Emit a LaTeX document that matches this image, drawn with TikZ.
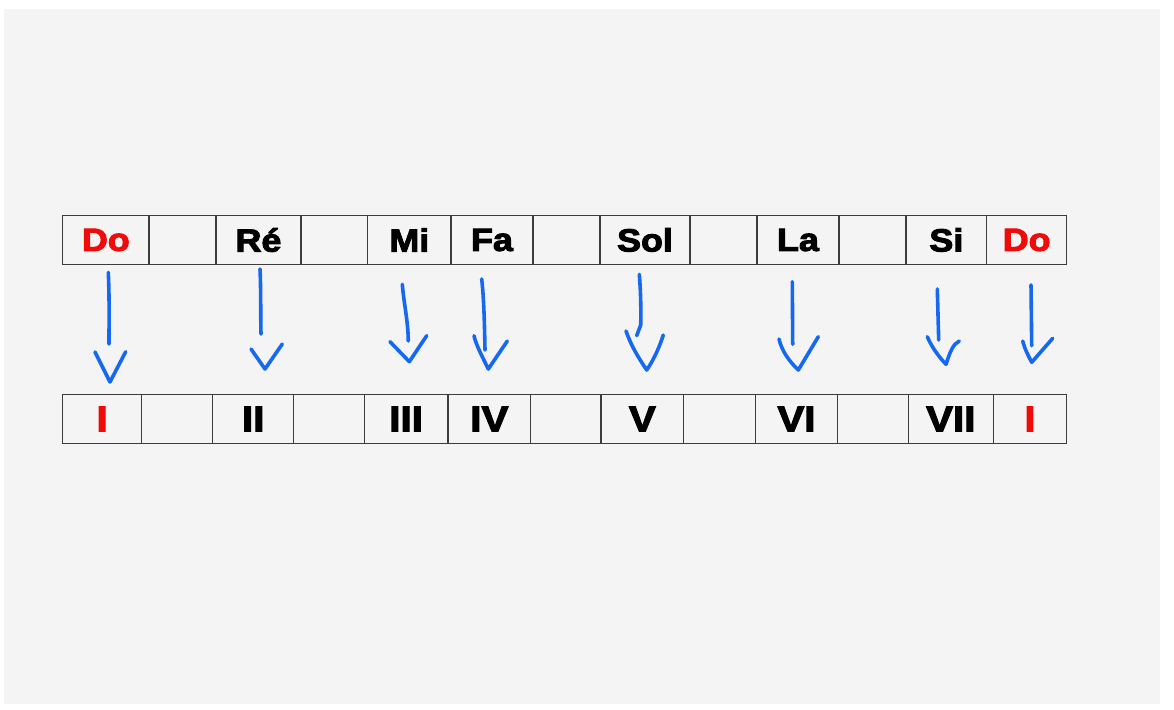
\documentclass[tikz,border=0pt]{standalone}
\usepackage{fontspec}
\newfontfamily\heavy{Liberation Sans}[BoldFeatures={FakeBold=3.2}, FakeStretch=1.12]
\definecolor{paper}{RGB}{244,244,244}
\definecolor{pen}{RGB}{22,104,240}
\definecolor{rednote}{RGB}{240,10,10}
\definecolor{border}{RGB}{60,60,60}
\tikzset{
  cell/.style={draw=border, line width=1.2pt, inner sep=0pt, minimum height=48.5pt, anchor=center},
  toptext/.style={font=\heavy\bfseries\fontsize{32}{32}\selectfont},
  bottext/.style={font=\heavy\bfseries\fontsize{36}{36}\selectfont},
  penline/.style={draw=pen, line width=3.6pt, line cap=round, line join=round}
}
\begin{document}
\begin{tikzpicture}[x=1pt,y=-1pt]
\useasboundingbox (0,0) rectangle (1174,709);
\fill[white] (0,0) rectangle (1174,709);
\fill[paper] (4,9) rectangle (1160,704);
% top row
\foreach \a/\b/\t/\c [count=\i] in {62.7/149/Do/rednote, 149/216//black, 216/301/Ré/black, 301/367.7//black, 367.7/451/Mi/black, 451/533/Fa/black, 533/600//black, 600/690/Sol/black, 690/757//black, 757/839/La/black, 839/906//black, 906/986.7/Si/black, 986.7/1066.7/Do/rednote}{
  \node[cell, toptext, text=\c, minimum width={(\b-\a)*1pt}] (t\i) at ({(\a+\b)/2},240) {\t};
}
% bottom row
\foreach \a/\b/\t/\c [count=\i] in {62.7/141.7/I/rednote, 141.7/212.7//black, 212.7/293.7/II/black, 293.7/364.3//black, 364.3/448/III/black, 448/530.7/IV/black, 530.7/601//black, 601/683.7/V/black, 683.7/755.7//black, 755.7/837.3/VI/black, 837.3/908.3//black, 908.3/993.3/VII/black, 993.3/1066.7/I/rednote}{
  \node[cell, bottext, text=\c, minimum width={(\b-\a)*1pt}] (b\i) at ({(\a+\b)/2},419) {\t};
}
% hand-drawn arrows
% Do -> I
\draw[penline] (108.3,272.3) .. controls (109.5,300) and (109,320) .. (109,344);
\draw[penline] (95,352) -- (110,382) -- (125.7,351.7);
% Re -> II
\draw[penline] (260,269) .. controls (261,290) and (260.5,315) .. (261,334);
\draw[penline] (251,349) -- (265,369) -- (282.3,344);
% Mi -> III
\draw[penline] (402.3,284.3) .. controls (404,305) and (408,320) .. (408.3,341);
\draw[penline] (390,341.7) -- (409.3,361.7) -- (426.7,335.7);
% Fa -> IV
\draw[penline] (481.7,279) .. controls (484,300) and (484.5,325) .. (485,350);
\draw[penline] (474,335.7) .. controls (476,345) and (482,356) .. (488.3,369) -- (507.3,341);
% Sol -> V
\draw[penline] (639.3,274.3) .. controls (641,295) and (641,315) .. (640.7,325) -- (636.7,335.7);
\draw[penline] (626,331) .. controls (632,348) and (640,360) .. (646.7,370) .. controls (655,358) and (660,345) .. (663.3,335);
% La -> VI
\draw[penline] (792.3,281.7) -- (792.7,344.3);
\draw[penline] (779,339) .. controls (782,352) and (790,362) .. (798.3,370) -- (818.3,336.7);
% Si -> VII
\draw[penline] (937.3,289) -- (938.7,340);
\draw[penline] (927.3,336.7) .. controls (932,348) and (940,358) .. (946,364.3) .. controls (950,352) and (953,344) .. (959.3,341);
% Do -> I
\draw[penline] (1031,285) -- (1031.7,345.7);
\draw[penline] (1022.7,341) .. controls (1025,350) and (1029,357) .. (1031.7,362.3) -- (1052.7,338.3);
\end{tikzpicture}
\end{document}
